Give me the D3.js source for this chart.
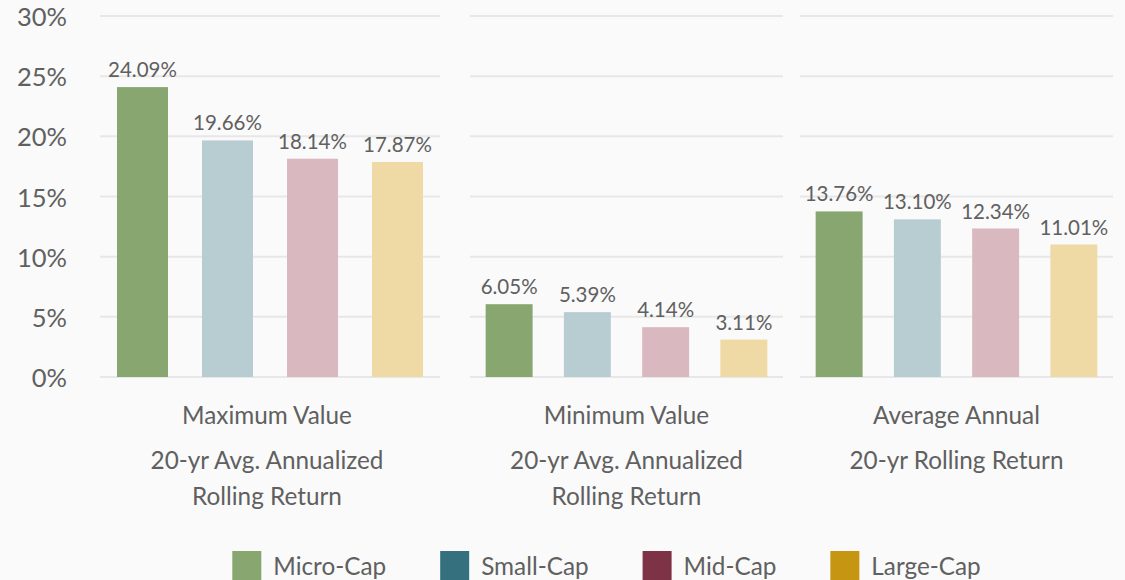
<!DOCTYPE html>
<html>
<head>
<meta charset="utf-8">
<script src="https://cdn.jsdelivr.net/npm/d3@7"></script>
<style>
  html, body { margin: 0; padding: 0; background: #fafafa; }
  svg { display: block; font-family: Lato, "Open Sans", sans-serif; }
</style>
</head>
<body>
<svg id="chart" width="1125" height="580"></svg>
<script>
// --- data ---
const series = ["Micro-Cap", "Small-Cap", "Mid-Cap", "Large-Cap"];
const barColors = ["#88a66f", "#b8cdd2", "#d9b9bf", "#efd9a5"];
const legendColors = ["#88a66f", "#35707f", "#7e3246", "#c69512"];

const panelLabels = [
  ["Maximum Value", "20-yr Avg. Annualized", "Rolling Return"],
  ["Minimum Value", "20-yr Avg. Annualized", "Rolling Return"],
  ["Average Annual", "20-yr Rolling Return"]
];
const maxValues = [24.09, 19.66, 18.14, 17.87];
const minValues = [6.05, 5.39, 4.14, 3.11];
const avgValues = [13.76, 13.10, 12.34, 11.01];
const panelValues = [maxValues, minValues, avgValues];

const yTicks = [0, 5, 10, 15, 20, 25, 30];

// --- layout ---
const width = 1125, height = 580;
const textColor = "#606060";
const gridColor = "#e7e7e7";
const panelRanges = [[100, 440], [470, 783], [800, 1113]];

const svg = d3.select("#chart");

svg.append("rect")
  .attr("width", width)
  .attr("height", height)
  .attr("fill", "#fafafa");

const y = d3.scaleLinear().domain([0, 30]).range([377, 16]);

// y axis labels
svg.append("g")
  .selectAll("text")
  .data(yTicks)
  .join("text")
  .attr("x", 67)
  .attr("y", d => y(d) + 10)
  .attr("text-anchor", "end")
  .attr("font-size", 25.5)
  .attr("fill", textColor)
  .text(d => d + "%");

// panels
panelValues.forEach((values, i) => {
  const [x0, x1] = panelRanges[i];
  const x = d3.scaleBand()
    .domain(series)
    .range([x0, x1])
    .paddingInner(0.4)
    .paddingOuter(0.2);

  const g = svg.append("g");

  g.append("g")
    .selectAll("line")
    .data(yTicks)
    .join("line")
    .attr("x1", x0)
    .attr("x2", x1)
    .attr("y1", d => y(d))
    .attr("y2", d => y(d))
    .attr("stroke", gridColor)
    .attr("stroke-width", 2);

  g.append("g")
    .selectAll("rect")
    .data(values)
    .join("rect")
    .attr("x", (d, j) => x(series[j]))
    .attr("width", x.bandwidth())
    .attr("y", d => y(d))
    .attr("height", d => y(0) - y(d))
    .attr("fill", (d, j) => barColors[j]);

  g.append("g")
    .selectAll("text")
    .data(values)
    .join("text")
    .attr("x", (d, j) => x(series[j]) + x.bandwidth() / 2)
    .attr("y", d => y(d) - 10)
    .attr("text-anchor", "middle")
    .attr("font-size", 20.5)
    .attr("fill", textColor)
    .text(d => d.toFixed(2) + "%");

  // category labels under the panel
  const baselines = [424, 469, 505];
  g.append("g")
    .selectAll("text")
    .data(panelLabels[i])
    .join("text")
    .attr("x", (x0 + x1) / 2 - (i === 0 ? 3 : 0))
    .attr("y", (d, k) => baselines[k])
    .attr("text-anchor", "middle")
    .attr("font-size", 24.3)
    .attr("fill", textColor)
    .text(d => d);
});

// --- legend ---
const legend = svg.append("g");
const box = 29, textGap = 41, itemGap = 54;
const items = legend.selectAll("g")
  .data(series)
  .join("g");

items.append("rect")
  .attr("y", 551)
  .attr("width", box)
  .attr("height", box)
  .attr("fill", (d, i) => legendColors[i]);

items.append("text")
  .attr("x", textGap)
  .attr("y", 575)
  .attr("font-size", 24.3)
  .attr("fill", textColor)
  .text(d => d);

let pos = 0;
const offsets = [];
items.each(function () {
  offsets.push(pos);
  const w = textGap + this.querySelector("text").getComputedTextLength();
  pos += w + itemGap;
});
const total = pos - itemGap;
const start = (panelRanges[0][0] + panelRanges[2][1]) / 2 - total / 2;
items.attr("transform", (d, i) => `translate(${start + offsets[i]},0)`);
</script>
</body>
</html>
